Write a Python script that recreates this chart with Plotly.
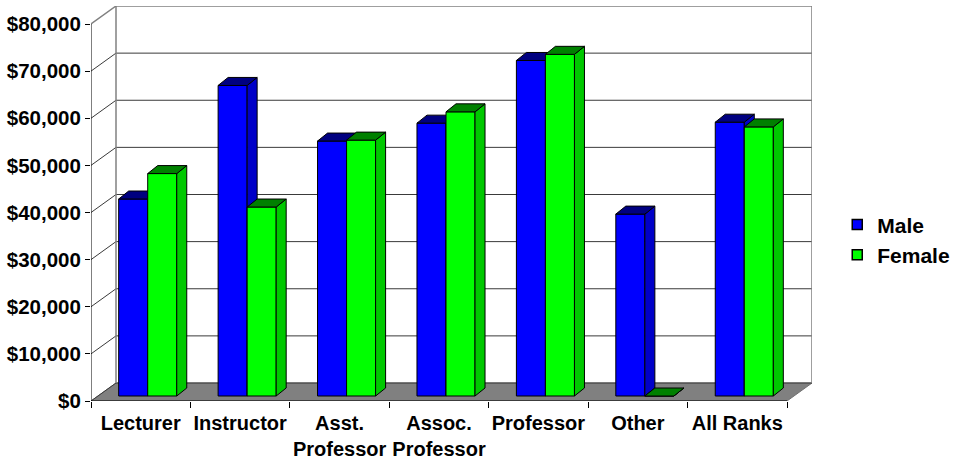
import plotly.graph_objects as go


categories = ['Lecturer', 'Instructor', 'Asst.<br>Professor', 'Assoc.<br>Professor',
              'Professor', 'Other', 'All Ranks']
male_salary = [41800, 65900, 54100, 57900, 71200, 38600, 58100]
female_salary = [47200, 40100, 54300, 60300, 72500, 0, 57100]
series_names = ['Male', 'Female']
y_tick_values = [0, 10000, 20000, 30000, 40000, 50000, 60000, 70000, 80000]
y_tick_labels = ['$' + format(v, ',') for v in y_tick_values]


# pixel scale of the front plane (used to turn the 3-d offsets into data units)
PX_PER_CAT = 99.43
PX_PER_UNIT = 377 / 80000
WALL_DX, WALL_DY = 25 / PX_PER_CAT, 18 / PX_PER_UNIT
BAR_SHIFT, BAR_BASE = 7 / PX_PER_CAT, 5 / PX_PER_UNIT
BAR_DX, BAR_DY = 10 / PX_PER_CAT, 8 / PX_PER_UNIT
BAR_W = 0.292

FONT = dict(family='Arial, Liberation Sans, sans-serif', color='black', weight='bold')
COLORS = {
    'Male': ('#0000ff', '#0000c8', '#000080'),
    'Female': ('#00ff00', '#00c800', '#008000'),
}


def line_trace(xs, ys, color, width=1):
    return go.Scatter(x=xs, y=ys, mode='lines', line=dict(color=color, width=width),
                      hoverinfo='skip', showlegend=False)


def add_walls(fig, n_cat):
    x0, x1 = -0.5, n_cat - 0.5
    top = y_tick_values[-1]
    # floor
    fig.add_trace(go.Scatter(x=[x0, x1, x1 + WALL_DX, x0 + WALL_DX, x0],
                             y=[0, 0, WALL_DY, WALL_DY, 0], mode='lines', fill='toself',
                             fillcolor='#808080', line=dict(color='#707070', width=1),
                             hoverinfo='skip', showlegend=False))
    # gridlines on side and back wall
    xs, ys = [], []
    for v in y_tick_values[:-1]:
        xs += [x0, x0 + WALL_DX, x1 + WALL_DX, None]
        ys += [v, v + WALL_DY, v + WALL_DY, None]
    fig.add_trace(line_trace(xs, ys, '#3a3a3a'))
    # frame of the back wall
    fig.add_trace(line_trace([x0, x0 + WALL_DX, x1 + WALL_DX, x1 + WALL_DX],
                             [top, top + WALL_DY, top + WALL_DY, WALL_DY], '#808080', 1.5))
    fig.add_trace(line_trace([x0 + WALL_DX, x0 + WALL_DX], [WALL_DY, top + WALL_DY], '#808080', 1.5))


def bar_faces(values, left_offset):
    front, side, topf = ([], []), ([], []), ([], [])
    for i, v in enumerate(values):
        xl = i + BAR_SHIFT + left_offset
        xr = xl + BAR_W
        b, t = BAR_BASE, BAR_BASE + v
        front[0].extend([xl, xr, xr, xl, xl, None])
        front[1].extend([b, b, t, t, b, None])
        side[0].extend([xr, xr + BAR_DX, xr + BAR_DX, xr, xr, None])
        side[1].extend([b, b + BAR_DY, t + BAR_DY, t, b, None])
        topf[0].extend([xl, xr, xr + BAR_DX, xl + BAR_DX, xl, None])
        topf[1].extend([t, t, t + BAR_DY, t + BAR_DY, t, None])
    return front, side, topf


def add_bars(fig, name, values, left_offset):
    faces = bar_faces(values, left_offset)
    for (xs, ys), color in zip(faces, COLORS[name]):
        fig.add_trace(go.Scatter(x=xs, y=ys, mode='lines', fill='toself', fillcolor=color,
                                 line=dict(color='black', width=1), name=name,
                                 hoverinfo='skip', showlegend=False))
    # legend entry
    fig.add_trace(go.Scatter(x=[None], y=[None], mode='markers', name=name,
                             marker=dict(symbol='square', size=10, color=COLORS[name][0],
                                         line=dict(color='black', width=1.5))))


n_cat = len(categories)
fig = go.Figure()
add_walls(fig, n_cat)
add_bars(fig, series_names[0], male_salary, -BAR_W)
add_bars(fig, series_names[1], female_salary, 0)

# front axis lines
fig.add_trace(line_trace([-0.5, -0.5], [0, y_tick_values[-1]], 'black'))
fig.add_trace(line_trace([-0.5, n_cat - 0.5], [0, 0], 'black'))

fig.update_layout(
    width=962, height=462,
    margin=dict(l=91, r=150, t=6, b=61, autoexpand=False),
    plot_bgcolor='white', paper_bgcolor='white',
    font=dict(size=20, **FONT),
    legend=dict(x=1.035, xanchor='left', y=0.408, yanchor='middle',
                font=dict(size=21, **FONT), bgcolor='rgba(0,0,0,0)'),
)
fig.update_xaxes(range=[-0.5, n_cat - 0.5 + WALL_DX], showgrid=False, zeroline=False,
                 automargin=False, ticklabelstandoff=8,
                 tickmode='array', tickvals=list(range(n_cat)), ticktext=categories, ticks='',
                 minor=dict(tickmode='array', tickvals=[i - 0.5 for i in range(n_cat + 1)],
                            ticks='outside', ticklen=6, tickcolor='black', showgrid=False))
fig.update_yaxes(range=[0, y_tick_values[-1] + WALL_DY], showgrid=False, zeroline=False,
                 automargin=False, tickmode='array', tickvals=y_tick_values,
                 ticktext=y_tick_labels, ticks='outside', ticklen=5, tickcolor='black',
                 tickfont=dict(size=20.5))

fig.write_html('out.html', config={'displayModeBar': False},
               post_script="document.body.style.margin='0';")
